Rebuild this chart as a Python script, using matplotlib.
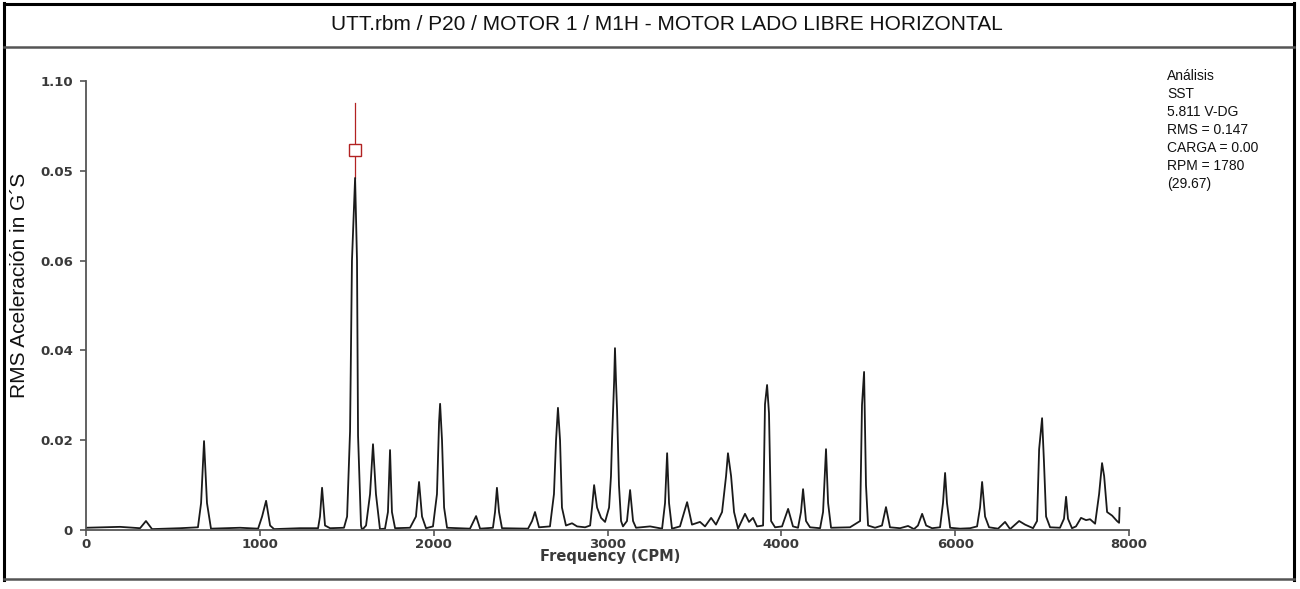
import matplotlib
matplotlib.use("Agg")
import matplotlib.pyplot as plt
from matplotlib.lines import Line2D

plt.rcParams['font.family'] = ['Liberation Sans', 'DejaVu Sans']

# ---- data ----
freq_cpm = [0, 196, 311, 345, 380, 541, 644, 662, 679, 696, 719, 886, 990, 1013, 1036, 1059, 1082,
            1231, 1335, 1346, 1358, 1375, 1404, 1484, 1502, 1519, 1530, 1548, 1559, 1565, 1582, 1588,
            1611, 1634, 1651, 1668, 1691, 1720, 1737, 1749, 1760, 1778, 1864, 1898, 1916, 1933, 1956,
            1996, 2019, 2031, 2037, 2048, 2060, 2077, 2209, 2244, 2267, 2341, 2353, 2364, 2376, 2393,
            2543, 2566, 2583, 2606, 2669, 2692, 2704, 2715, 2727, 2738, 2761, 2796, 2825, 2871, 2900,
            2911, 2923, 2940, 2963, 2986, 3009, 3020, 3026, 3038, 3043, 3049, 3055, 3066, 3078, 3089,
            3112, 3130, 3147, 3164, 3245, 3314, 3331, 3343, 3354, 3371, 3417, 3458, 3486, 3532, 3561,
            3596, 3624, 3659, 3682, 3693, 3711, 3728, 3751, 3791, 3814, 3837, 3860, 3895, 3906, 3918,
            3929, 3941, 3964, 4004, 4039, 4067, 4096, 4113, 4125, 4142, 4165, 4223, 4240, 4251, 4257,
            4269, 4286, 4395, 4453, 4464, 4476, 4487, 4499, 4539, 4579, 4602, 4625, 4683, 4729, 4763,
            4786, 4810, 4833, 4867, 4913, 4930, 4942, 4953, 4971, 5028, 5086, 5126, 5143, 5155, 5172,
            5195, 5247, 5287, 5316, 5368, 5402, 5448, 5471, 5483, 5500, 5511, 5523, 5546, 5603, 5626,
            5638, 5649, 5672, 5695, 5724, 5753, 5776, 5805, 5828, 5845, 5857, 5874, 5903, 5931, 5943,
            5946]
accel_g = [0.0005, 0.0007, 0.0004, 0.0020, 0.0002, 0.0004, 0.0006, 0.0060, 0.0198, 0.0060, 0.0003,
           0.0005, 0.0003, 0.0030, 0.0065, 0.0010, 0.0002,
           0.0004, 0.0004, 0.0030, 0.0094, 0.0010, 0.0004, 0.0005, 0.0030, 0.0220, 0.0600, 0.0784,
           0.0600, 0.0210, 0.0010, 0.0000,
           0.0010, 0.0080, 0.0191, 0.0080, 0.0002, 0.0003, 0.0040, 0.0178, 0.0040, 0.0004, 0.0005,
           0.0030, 0.0107, 0.0030, 0.0004,
           0.0008, 0.0080, 0.0240, 0.0281, 0.0200, 0.0050, 0.0005, 0.0003, 0.0031, 0.0003, 0.0005,
           0.0040, 0.0094, 0.0040, 0.0004,
           0.0003, 0.0020, 0.0040, 0.0006, 0.0008, 0.0080, 0.0200, 0.0272, 0.0200, 0.0050, 0.0010,
           0.0015, 0.0008, 0.0006, 0.0010,
           0.0050, 0.0100, 0.0050, 0.0027, 0.0018, 0.0050, 0.0120, 0.0200, 0.0330, 0.0405, 0.0330,
           0.0267, 0.0100, 0.0020, 0.0008,
           0.0020, 0.0089, 0.0020, 0.0005, 0.0008, 0.0003, 0.0060, 0.0171, 0.0060, 0.0003, 0.0008,
           0.0062, 0.0012, 0.0018, 0.0008,
           0.0027, 0.0012, 0.0040, 0.0120, 0.0171, 0.0120, 0.0040, 0.0003, 0.0036, 0.0018, 0.0027,
           0.0008, 0.0010, 0.0280, 0.0323,
           0.0260, 0.0020, 0.0006, 0.0008, 0.0047, 0.0008, 0.0005, 0.0040, 0.0091, 0.0020, 0.0006,
           0.0004, 0.0040, 0.0130, 0.0180,
           0.0060, 0.0005, 0.0006, 0.0020, 0.0278, 0.0352, 0.0100, 0.0010, 0.0005, 0.0010, 0.0051,
           0.0006, 0.0004, 0.0009, 0.0002,
           0.0010, 0.0036, 0.0010, 0.0004, 0.0006, 0.0060, 0.0127, 0.0060, 0.0005, 0.0003, 0.0004,
           0.0008, 0.0050, 0.0107, 0.0030,
           0.0006, 0.0003, 0.0018, 0.0002, 0.0020, 0.0012, 0.0004, 0.0020, 0.0180, 0.0249, 0.0150,
           0.0030, 0.0006, 0.0005, 0.0025,
           0.0074, 0.0025, 0.0004, 0.0008, 0.0027, 0.0022, 0.0024, 0.0014, 0.0080, 0.0149, 0.0120,
           0.0040, 0.0032, 0.0020, 0.0016,
           0.0049]

x_tick_pos = [0, 1000, 2000, 3000, 4000, 5000, 6000]
x_tick_labels = ['0', '1000', '2000', '3000', '4000', '6000', '8000']
y_tick_pos = [0, 0.02, 0.04, 0.06, 0.08, 0.10]
y_tick_labels = ['0', '0.02', '0.04', '0.06', '0.05', '1.10']

cursor_freq = 1548
cursor_top = 0.0951
cursor_peak = 0.0784
cursor_marker = 0.0846

title = 'UTT.rbm / P20 / MOTOR 1 / M1H - MOTOR LADO LIBRE HORIZONTAL'
info_lines = ['Análisis', 'SST', '5.811 V-DG', 'RMS = 0.147', 'CARGA = 0.00', 'RPM = 1780', '(29.67)']

# ---- figure ----
W, H = 1300, 589
fig = plt.figure(figsize=(W / 100, H / 100), dpi=100)
fig.patch.set_facecolor('white')

def fx(px):
    return px / W

def fy(py):
    return 1 - py / H

# outer frame
fig.add_artist(Line2D([fx(4), fx(4)], [fy(3), fy(580)], color='black', lw=2.2, transform=fig.transFigure))
fig.add_artist(Line2D([fx(1294), fx(1294)], [fy(3), fy(580)], color='black', lw=2.2, transform=fig.transFigure))
fig.add_artist(Line2D([fx(4), fx(1294)], [fy(4), fy(4)], color='black', lw=2.2, transform=fig.transFigure))
fig.add_artist(Line2D([fx(4), fx(1294)], [fy(579), fy(579)], color='#555555', lw=1.8, transform=fig.transFigure))
fig.add_artist(Line2D([fx(4), fx(1294)], [fy(47), fy(47)], color='#555555', lw=1.8, transform=fig.transFigure))

fig.text(fx(667), fy(25), title, ha='center', va='center', fontsize=15, color='#111111')

ax = fig.add_axes([fx(86), fy(530), fx(1129) - fx(86), fy(81) - fy(530)])
ax.set_facecolor('none')

ax.plot([cursor_freq, cursor_freq], [cursor_peak, cursor_top], color='#b22222', lw=0.9, zorder=1)
ax.plot(freq_cpm, accel_g, color='#1a1a1a', lw=1.3, zorder=2)
ax.plot([cursor_freq], [cursor_marker], marker='s', markersize=9, markerfacecolor='white',
        markeredgecolor='#b22222', markeredgewidth=1.0, zorder=3)

ax.set_xlim(0, 6000)
ax.set_ylim(0, 0.10)
ax.set_xticks(x_tick_pos)
ax.set_xticklabels(x_tick_labels)
ax.set_yticks(y_tick_pos)
ax.set_yticklabels(y_tick_labels)
for s in ['top', 'right']:
    ax.spines[s].set_visible(False)
for s in ['left', 'bottom']:
    ax.spines[s].set_color('#555555')
    ax.spines[s].set_linewidth(1.3)
ax.tick_params(axis='both', colors='#555555', width=1.2, labelsize=9.5, labelcolor='#3a3a3a')
ax.tick_params(axis='x', length=4, pad=1.5)
ax.tick_params(axis='y', length=4.3, pad=5)
for lab in ax.get_xticklabels() + ax.get_yticklabels():
    lab.set_fontweight('bold')
    lab.set_family('DejaVu Sans')

fig.text(fx(610), fy(557), 'Frequency (CPM)', ha='center', va='center', fontsize=10.5,
         fontweight='bold', color='#3a3a3a', family='DejaVu Sans')
fig.text(fx(20), fy(285), 'RMS Aceleración in G´S', rotation=90, ha='center', va='center',
         fontsize=15, color='#111111')

fig.text(fx(1167), fy(69), '\n'.join(info_lines), ha='left', va='top', fontsize=10,
         color='#111111', linespacing=1.36)

fig.savefig('out.png', dpi=100)
